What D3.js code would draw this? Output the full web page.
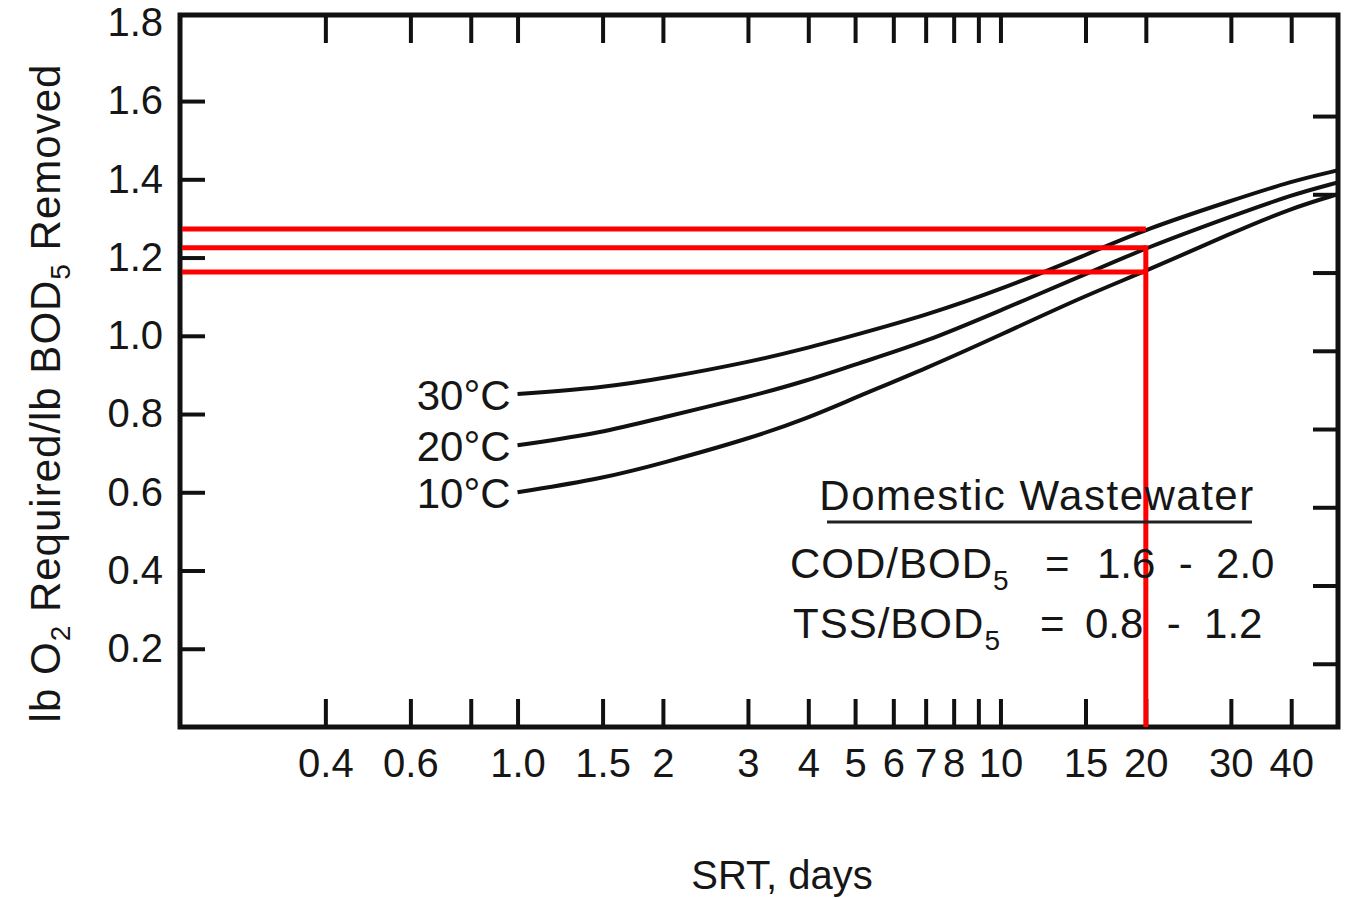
<!DOCTYPE html>
<html>
<head>
<meta charset="utf-8">
<script src="https://cdn.jsdelivr.net/npm/d3@7"></script>
<style>
  body { margin: 0; background: #fff; }
  svg { display: block; font-family: "Liberation Sans", Arial, Helvetica, sans-serif; }
  .axis text { font-size: 40px; fill: #161616; }
  .axis line { stroke: #111; stroke-width: 4px; }
  .axis path { display: none; }
</style>
</head>
<body>
<svg width="1346" height="899"></svg>
<script>
// Chart data
const srtPoints = [1.0, 1.5, 2, 3, 4, 5, 7, 10, 15, 20, 30, 40, 50];
const o2At30C = [0.851, 0.867, 0.891, 0.932, 0.969, 1.002, 1.052, 1.118, 1.206, 1.273, 1.345, 1.395, 1.423];
const o2At20C = [0.720, 0.752, 0.792, 0.843, 0.886, 0.927, 0.984, 1.065, 1.157, 1.225, 1.305, 1.360, 1.392];
const o2At10C = [0.600, 0.635, 0.675, 0.736, 0.790, 0.842, 0.916, 1.002, 1.103, 1.165, 1.262, 1.326, 1.362];
const curveLabels = ["30°C", "20°C", "10°C"];

const xTickValues = [0.4, 0.6, 0.8, 1, 1.5, 2, 3, 4, 5, 6, 7, 8, 9, 10, 15, 20, 30, 40];
const xTickLabels = ["0.4", "0.6", "", "1.0", "1.5", "2", "3", "4", "5", "6", "7", "8", "", "10", "15", "20", "30", "40"];
const yTickValues = [0.2, 0.4, 0.6, 0.8, 1.0, 1.2, 1.4, 1.6, 1.8];
const yTickLabels = ["0.2", "0.4", "0.6", "0.8", "1.0", "1.2", "1.4", "1.6", "1.8"];

// red read-off lines at SRT = 20 days
const redSrt = 20;
const redLevels = [1.273, 1.225, 1.163];

const svg = d3.select("svg");

const x = d3.scaleLog().domain([0.2, 50]).range([180, 1338]);
const y = d3.scaleLinear().domain([0, 1.82]).range([727, 15]);

// Axes (ticks point inwards)
svg.append("g")
  .attr("class", "axis")
  .attr("transform", `translate(0,${y(0)})`)
  .call(d3.axisBottom(x)
    .tickValues(xTickValues)
    .tickFormat((d, i) => xTickLabels[i])
    .tickSizeInner(-28)
    .tickSizeOuter(0)
    .tickPadding(22));

svg.append("g")
  .attr("class", "axis")
  .attr("transform", `translate(0,${y(1.82)})`)
  .call(d3.axisTop(x)
    .tickValues(xTickValues)
    .tickFormat("")
    .tickSizeInner(-28)
    .tickSizeOuter(0));

const leftAxis = svg.append("g")
  .attr("class", "axis")
  .attr("transform", `translate(${x(0.2)},0)`)
  .call(d3.axisLeft(y)
    .tickValues(yTickValues)
    .tickFormat((d, i) => yTickLabels[i])
    .tickSizeInner(-25)
    .tickSizeOuter(0)
    .tickPadding(17));
leftAxis.selectAll(".tick line").filter((d) => d > 1.7).remove();

// right ticks sit a bit lower on the scan
svg.append("g")
  .attr("class", "axis")
  .attr("transform", `translate(${x(50)},15)`)
  .call(d3.axisRight(y)
    .tickValues(yTickValues.filter((d) => d < 1.7))
    .tickFormat("")
    .tickSizeInner(-25)
    .tickSizeOuter(0));

// Frame
svg.append("rect")
  .attr("x", x(0.2))
  .attr("y", y(1.82))
  .attr("width", x(50) - x(0.2))
  .attr("height", y(0) - y(1.82))
  .attr("fill", "none")
  .attr("stroke", "#111")
  .attr("stroke-width", 5);

// Curves
const line = d3.line()
  .x((d) => x(d[0]))
  .y((d) => y(d[1]))
  .curve(d3.curveBasis);

const series = [o2At30C, o2At20C, o2At10C];

svg.append("g")
  .selectAll("path")
  .data(series)
  .join("path")
  .attr("d", (vals) => line(srtPoints.map((s, i) => [s, vals[i]])))
  .attr("fill", "none")
  .attr("stroke", "#111")
  .attr("stroke-width", 4);

svg.append("g")
  .selectAll("text")
  .data(series)
  .join("text")
  .attr("x", x(srtPoints[0]) - 7)
  .attr("y", (vals) => y(vals[0]) + 16)
  .attr("text-anchor", "end")
  .attr("font-size", 42)
  .attr("fill", "#161616")
  .text((d, i) => curveLabels[i]);

// Red read-off lines
const red = svg.append("g")
  .attr("stroke", "#ff0000")
  .attr("stroke-width", 5)
  .attr("fill", "none");

red.selectAll("line.h")
  .data(redLevels)
  .join("line")
  .attr("class", "h")
  .attr("x1", x(0.2) + 2)
  .attr("x2", x(redSrt))
  .attr("y1", (d) => y(d))
  .attr("y2", (d) => y(d));

red.append("line")
  .attr("x1", x(redSrt))
  .attr("x2", x(redSrt))
  .attr("y1", y(redLevels[1]) - 2.5)
  .attr("y2", y(0));

// Note block
const note = svg.append("g").attr("fill", "#161616").attr("font-size", 42);

note.append("text")
  .attr("x", 1037)
  .attr("y", 510)
  .attr("text-anchor", "middle")
  .attr("letter-spacing", 1.5)
  .text("Domestic Wastewater");

note.append("line")
  .attr("x1", 827)
  .attr("x2", 1252)
  .attr("y1", 522)
  .attr("y2", 522)
  .attr("stroke", "#222")
  .attr("stroke-width", 3);

function ratioRow(yPos, x0, name, xEq, xRange, range) {
  const t = note.append("text").attr("y", yPos).style("white-space", "pre");
  t.append("tspan").attr("x", x0).attr("letter-spacing", 1).text(name);
  t.append("tspan").attr("font-size", 28).attr("dy", 12).text("5");
  t.append("tspan").attr("x", xEq).attr("dy", -12).text("=");
  t.append("tspan").attr("x", xRange).text(range);
}
ratioRow(578, 790, "COD/BOD", 1045, 1097, "1.6  -  2.0");
ratioRow(638, 793, "TSS/BOD", 1040, 1085, "0.8  -  1.2");

// Axis titles
svg.append("text")
  .attr("x", 782)
  .attr("y", 889)
  .attr("text-anchor", "middle")
  .attr("font-size", 40)
  .attr("fill", "#161616")
  .text("SRT, days");

const yTitle = svg.append("text")
  .attr("transform", "translate(60,393) rotate(-90)")
  .attr("text-anchor", "middle")
  .attr("font-size", 42)
  .attr("letter-spacing", 1)
  .attr("fill", "#161616");
yTitle.append("tspan").text("lb O");
yTitle.append("tspan").attr("font-size", 28).attr("dy", 10).text("2");
yTitle.append("tspan").attr("dy", -10).text(" Required/lb BOD");
yTitle.append("tspan").attr("font-size", 28).attr("dy", 10).text("5");
yTitle.append("tspan").attr("dy", -10).text(" Removed");
</script>
</body>
</html>
